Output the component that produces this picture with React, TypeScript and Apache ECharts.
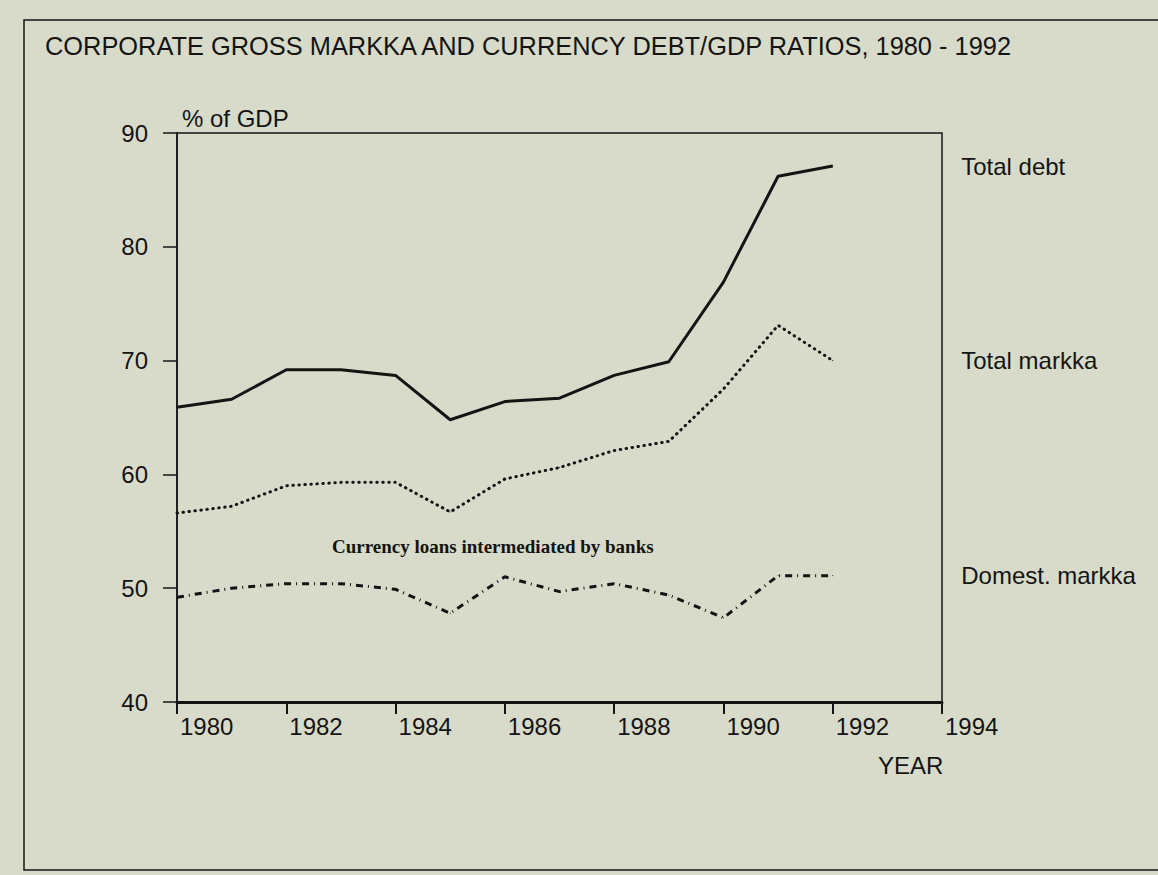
import React, { useEffect, useRef } from "react";
import * as echarts from "echarts";

const years = [1980, 1981, 1982, 1983, 1984, 1985, 1986, 1987, 1988, 1989, 1990, 1991, 1992];
const totalDebt = [65.9, 66.6, 69.2, 69.2, 68.7, 64.8, 66.4, 66.7, 68.7, 69.9, 76.9, 86.2, 87.1];
const totalMarkka = [56.6, 57.2, 59.0, 59.3, 59.3, 56.7, 59.6, 60.6, 62.1, 62.9, 67.5, 73.1, 70.0];
const domestMarkka = [49.2, 50.0, 50.4, 50.4, 49.9, 47.8, 51.0, 49.7, 50.4, 49.4, 47.4, 51.1, 51.1];
const seriesNames = ["Total debt", "Total markka", "Domest. markka"];

const title = "CORPORATE GROSS MARKKA AND CURRENCY DEBT/GDP RATIOS, 1980 - 1992";
const yAxisTitle = "% of GDP";
const xAxisTitle = "YEAR";
const note = "Currency loans intermediated by banks";

const INK = "#141414";
const SANS = "'Liberation Sans', Arial, Helvetica, sans-serif";
const SERIF = "'Liberation Serif', 'Times New Roman', serif";

function toData(vals: number[], name: string) {
  return years.map((y, i) =>
    i === years.length - 1
      ? {
          value: [y, vals[i]],
          label: {
            show: true,
            position: "right",
            distance: 128,
            formatter: name,
            fontSize: 24,
            color: INK,
            fontFamily: SANS,
          },
        }
      : [y, vals[i]]
  );
}

export default function App() {
  const ref = useRef<HTMLDivElement>(null);
  useEffect(() => {
    if (!ref.current) return;
    const chart = echarts.init(ref.current, undefined, { renderer: "svg" });
    const base = {
      type: "line",
      symbol: "circle",
      symbolSize: 1,
      showSymbol: true,
      itemStyle: { color: INK },
      silent: true,
    };
    chart.setOption({
      animation: false,
      backgroundColor: "#d9dbca",
      textStyle: { fontFamily: SANS, color: INK },
      grid: {
        left: 177,
        right: 216,
        top: 133,
        bottom: 173,
        show: true,
        borderColor: INK,
        borderWidth: 1.5,
        backgroundColor: "transparent",
      },
      xAxis: {
        type: "value",
        min: 1980,
        max: 1994,
        interval: 2,
        axisLine: { show: true, onZero: false, lineStyle: { color: INK, width: 3 } },
        axisTick: { show: true, inside: false, length: 12, lineStyle: { color: INK, width: 2 } },
        axisLabel: {
          color: INK,
          fontSize: 24,
          fontFamily: SANS,
          align: "left",
          margin: 12,
          padding: [0, 0, 0, 3],
          formatter: (v: number) => String(v),
        },
        splitLine: { show: false },
      },
      yAxis: {
        type: "value",
        min: 40,
        max: 90,
        interval: 10,
        axisLine: { show: true, lineStyle: { color: INK, width: 1.5 } },
        axisTick: { show: true, inside: false, length: 14, lineStyle: { color: INK, width: 1.5 } },
        axisLabel: { color: INK, fontSize: 24, fontFamily: SANS, margin: 29 },
        splitLine: { show: false },
      },
      graphic: [
        {
          type: "rect",
          z: -1,
          silent: true,
          shape: { x: 24, y: 20, width: 1200, height: 850 },
          style: { fill: "none", stroke: INK, lineWidth: 1.5 },
        },
        {
          type: "text",
          left: 45,
          top: 33,
          style: { text: title, fontSize: 25.4, fontFamily: SANS, fill: INK },
        },
        {
          type: "text",
          left: 182,
          top: 106,
          style: { text: yAxisTitle, fontSize: 24, fontFamily: SANS, fill: INK },
        },
        {
          type: "text",
          left: 878,
          top: 753,
          style: { text: xAxisTitle, fontSize: 24, fontFamily: SANS, fill: INK },
        },
        {
          type: "text",
          left: 332,
          top: 537,
          style: { text: note, fontSize: 19, fontWeight: "bold", fontFamily: SERIF, fill: INK },
        },
      ],
      series: [
        {
          ...base,
          name: seriesNames[0],
          data: toData(totalDebt, seriesNames[0]),
          lineStyle: { color: INK, width: 3, type: "solid" },
        },
        {
          ...base,
          name: seriesNames[1],
          data: toData(totalMarkka, seriesNames[1]),
          lineStyle: { color: INK, width: 3, type: [0.5, 5.5], cap: "round" },
        },
        {
          ...base,
          name: seriesNames[2],
          data: toData(domestMarkka, seriesNames[2]),
          lineStyle: { color: INK, width: 3, type: [7, 5, 1, 5], cap: "butt" },
        },
      ],
    });
    return () => chart.dispose();
  }, []);
  return (
    <div
      ref={ref}
      style={{ position: "fixed", left: 0, top: 0, width: 1158, height: 875 }}
    />
  );
}
